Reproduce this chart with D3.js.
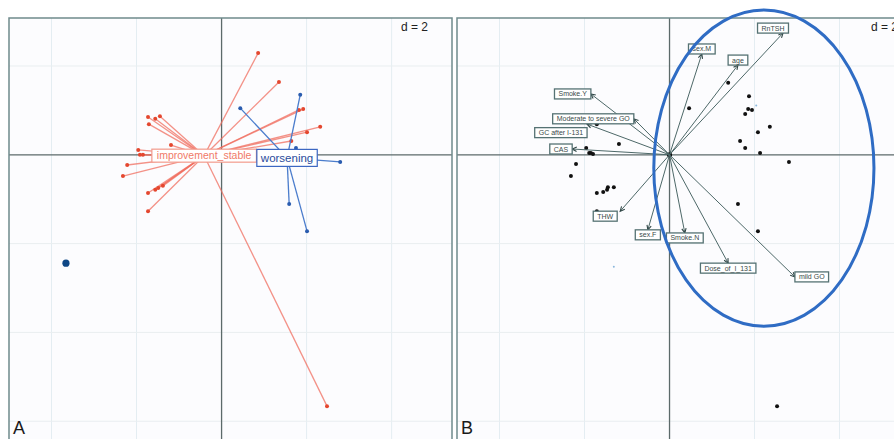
<!DOCTYPE html>
<html>
<head>
<meta charset="utf-8">
<script src="https://cdn.jsdelivr.net/npm/d3@7"></script>
<style>
  body { margin: 0; background: #fff; }
  text { font-family: "Liberation Sans", Arial, sans-serif; }
</style>
</head>
<body>
<svg id="chart" width="894" height="439"></svg>
<script>
// grid step shown as "d = 2"
const gridStep = 2;

// Panel A : class "improvement_stable" (red)
const improveX = [0.86, 1.35, 1.92, 1.82, 2.32, 2.01, 1.64, -1.73, -1.56, -1.45, -1.71, -1.19,
                  -1.96, -1.92, -1.85, -2.22, -2.32, -1.73, -1.56, -1.49, -1.38, -1.73, 2.48];
const improveY = [2.29, 1.64, 1.03, 1.01, 0.63, 0.51, 0.31, 0.85, 0.81, 0.87, 0.69, 0.22,
                  0.11, 0.00, 0.00, -0.23, -0.48, -0.86, -0.79, -0.75, -0.70, -1.27, -5.66];
const improveCentre = [-0.41, -0.02];

// Panel A : class "worsening" (blue)
const worsenX = [0.44, 1.85, 1.75, 2.18, 2.79, 1.59, 2.01];
const worsenY = [1.05, 1.35, 0.15, 0.02, -0.16, -1.11, -1.72];
const worsenCentre = [1.54, -0.07];

const classNames = ["improvement_stable", "worsening"];
const isolatedPoint = [-3.66, -2.44];

// Panel B : variable arrows
const varNames = ["RnTSH", "sex.M", "age", "Smoke.Y", "Moderate to severe GO", "GC after I-131",
                  "CAS", "THW", "sex.F", "Smoke.N", "Dose_of_I_131", "mild GO"];
const varX = [2.67, 0.76, 1.61, -1.85, -0.84, -1.94, -2.29, -1.16, -0.51, 0.36, 1.38, 2.95];
const varY = [2.74, 2.27, 2.02, 1.37, 0.81, 0.69, 0.13, -1.27, -1.69, -1.76, -2.44, -2.75];

// Panel B : individuals
const indX = [1.38, 0.46, 1.87, 1.85, 1.94, 1.78, 2.36, 2.08, 1.66, 1.78, 2.13, 2.81,
              -1.19, -1.71, -1.96, -1.89, -1.85, -1.80, -2.20, -2.32, -1.71, -1.56, -1.47,
              -1.45, -1.31, -1.71, 1.61, 2.08, 2.53];
const indY = [1.62, 1.05, 1.32, 1.03, 1.01, 0.92, 0.63, 0.51, 0.31, 0.15, 0.04, -0.16,
              0.24, 0.69, 0.15, 0.04, 0.04, 0.02, -0.21, -0.48, -0.86, -0.84, -0.79,
              -0.73, -0.73, -1.27, -1.11, -1.72, -5.66];
const faintX = [-1.31, 2.04];
const faintY = [-2.52, 1.11];

// highlighted ellipse: centre x, centre y, radius x, radius y (data units)
const ellipseB = [2.22, -0.30, 2.59, 3.56];

// ---------- layout ----------
const svg = d3.select("#chart");
const y = d3.scaleLinear().domain([3.08, -6.4]).range([18, 439]);
const xA = d3.scaleLinear().domain([-5, 5.42]).range([9, 452]);
const xB = d3.scaleLinear().domain([-5, 5.94]).range([457, 922]);
const labelNudge = {"RnTSH": [-10, 0], "GC after I-131": [0, 8.5], "THW": [-15, 0]};

function drawFrame(x, letter)
{
    const g = svg.append("g");
    const [x0, x1] = x.range();
    const top = y.range()[0];

    g.append("rect")
        .attr("x", x0).attr("y", top)
        .attr("width", x1 - x0).attr("height", 440 - top)
        .attr("fill", "#fcfcfe");

    const xTicks = d3.range(Math.ceil(x.domain()[0] / gridStep) * gridStep, x.domain()[1], gridStep)
                     .filter(v => v !== 0);
    const yTicks = d3.range(Math.ceil(y.domain()[1] / gridStep) * gridStep, y.domain()[0], gridStep)
                     .filter(v => v !== 0);

    g.selectAll(".gx").data(xTicks).join("line")
        .attr("x1", d => x(d)).attr("x2", d => x(d))
        .attr("y1", top).attr("y2", 445)
        .attr("stroke", "#e4edf2").attr("stroke-width", 1);
    g.selectAll(".gy").data(yTicks).join("line")
        .attr("x1", x0).attr("x2", x1)
        .attr("y1", d => y(d)).attr("y2", d => y(d))
        .attr("stroke", "#e9eef0").attr("stroke-width", 1);

    // zero axes
    g.append("line")
        .attr("x1", x(0)).attr("x2", x(0)).attr("y1", top).attr("y2", 445)
        .attr("stroke", "#5c6a6a").attr("stroke-width", 1.3);
    g.append("line")
        .attr("x1", x0).attr("x2", x1).attr("y1", y(0)).attr("y2", y(0))
        .attr("stroke", "#5c6a6a").attr("stroke-width", 1.3);

    // frame
    g.append("rect")
        .attr("x", x0).attr("y", top)
        .attr("width", x1 - x0).attr("height", 445 - top)
        .attr("fill", "none")
        .attr("stroke", "#6f8b8c").attr("stroke-width", 1.5);

    g.append("text")
        .attr("x", x1 - 24).attr("y", 31)
        .attr("text-anchor", "end")
        .attr("font-size", 12)
        .attr("fill", "#222")
        .text("d = " + gridStep);

    g.append("text")
        .attr("x", x0 + 4).attr("y", 434)
        .attr("font-size", 18)
        .attr("fill", "#1a1a1a")
        .text(letter);
    return g;
}

// ---------- panel A ----------
drawFrame(xA, "A");
const gA = svg.append("g");

function drawStar(xs, ys, centre, lineCol, dotCol)
{
    const pts = xs.map((v, i) => [v, ys[i]]);
    gA.append("g").selectAll("line").data(pts).join("line")
        .attr("x1", xA(centre[0])).attr("y1", y(centre[1]))
        .attr("x2", d => xA(d[0])).attr("y2", d => y(d[1]))
        .attr("stroke", lineCol).attr("stroke-width", 1.3);
    gA.append("g").selectAll("circle").data(pts).join("circle")
        .attr("cx", d => xA(d[0])).attr("cy", d => y(d[1]))
        .attr("r", 2).attr("fill", dotCol);
}
drawStar(improveX, improveY, improveCentre, "rgba(240,110,95,0.75)", "#e4472f");
drawStar(worsenX, worsenY, worsenCentre, "#4a7ccc", "#2a5caf");

gA.append("circle")
    .attr("cx", xA(isolatedPoint[0])).attr("cy", y(isolatedPoint[1]))
    .attr("r", 3.6).attr("fill", "#0e4786");

function classLabel(text, centre, size, textCol, borderCol, pad, h)
{
    const cx = xA(centre[0]), cy = y(centre[1]);
    const box = gA.append("rect");
    const t = gA.append("text")
        .attr("x", cx).attr("y", cy + size * 0.36)
        .attr("text-anchor", "middle")
        .attr("font-size", size)
        .attr("fill", textCol)
        .text(text);
    const w = t.node().getComputedTextLength() + 2 * pad;
    box.attr("x", cx - w / 2).attr("y", cy - h / 2)
        .attr("width", w).attr("height", h)
        .attr("fill", "#fff")
        .attr("stroke", borderCol).attr("stroke-width", 1.2);
}
classLabel(classNames[0], improveCentre, 10.5, "#f07a68", "#f29a8c", 5, 13);
classLabel(classNames[1], worsenCentre, 11.5, "#2a4c9c", "#3b66c2", 4, 17);

// ---------- panel B ----------
drawFrame(xB, "B");
const gB = svg.append("g");

gB.append("g").selectAll("circle").data(indX.map((v, i) => [v, indY[i]])).join("circle")
    .attr("cx", d => xB(d[0])).attr("cy", d => y(d[1]))
    .attr("r", 2).attr("fill", "#111");
gB.append("g").selectAll("circle").data(faintX.map((v, i) => [v, faintY[i]])).join("circle")
    .attr("cx", d => xB(d[0])).attr("cy", d => y(d[1]))
    .attr("r", 1).attr("fill", "#8cb8dc");

gB.append("circle").attr("cx", xB(0)).attr("cy", y(0)).attr("r", 2.6).attr("fill", "#111");

const arrowCol = "#4d6868";
const vars = varNames.map((n, i) => ({name: n, x: varX[i], y: varY[i]}));

gB.append("g").selectAll("line").data(vars).join("line")
    .attr("x1", xB(0)).attr("y1", y(0))
    .attr("x2", d => xB(d.x)).attr("y2", d => y(d.y))
    .attr("stroke", arrowCol).attr("stroke-width", 1);

// arrow heads
gB.append("g").selectAll("path").data(vars).join("path")
    .attr("d", d => {
        const tx = xB(d.x), ty = y(d.y);
        const a = Math.atan2(ty - y(0), tx - xB(0));
        const L = 5, s = 0.45;
        return "M" + (tx - L * Math.cos(a - s)) + "," + (ty - L * Math.sin(a - s)) +
               "L" + tx + "," + ty +
               "L" + (tx - L * Math.cos(a + s)) + "," + (ty - L * Math.sin(a + s));
    })
    .attr("fill", "none").attr("stroke", "#2f4545").attr("stroke-width", 1.1);

// labelled boxes, placed outside the arrow tip (ade4 style)
const boxH = 10;
vars.forEach(d => {
    const lab = gB.append("g");
    const t = lab.append("text")
        .attr("font-size", 7)
        .attr("fill", "#3a4a4a")
        .attr("text-anchor", "middle")
        .text(d.name);
    const w = t.node().getComputedTextLength() + 8;
    let cx = xB(d.x), cy = y(d.y);
    if (d.x > d.y && d.x > -d.y) cx += w / 2;
    else if (d.x > d.y) cy += boxH / 2;
    else if (d.x <= -d.y) cx -= w / 2;
    else cy -= boxH / 2;
    const nudge = labelNudge[d.name] || [0, 0];
    cx += nudge[0]; cy += nudge[1];
    lab.insert("rect", "text")
        .attr("x", cx - w / 2).attr("y", cy - boxH / 2)
        .attr("width", w).attr("height", boxH)
        .attr("fill", "#fff")
        .attr("stroke", "#557273").attr("stroke-width", 1.3);
    t.attr("x", cx).attr("y", cy + 2.5);
});

// highlight ellipse
gB.append("ellipse")
    .attr("cx", xB(ellipseB[0])).attr("cy", y(ellipseB[1]))
    .attr("rx", xB(ellipseB[2]) - xB(0)).attr("ry", y(0) - y(ellipseB[3]))
    .attr("fill", "none")
    .attr("stroke", "#2f6cc4").attr("stroke-width", 3);
</script>
</body>
</html>
